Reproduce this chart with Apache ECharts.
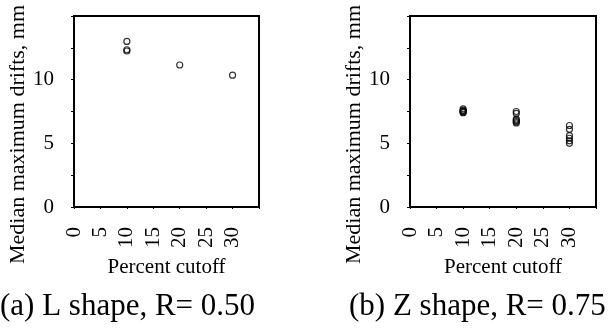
<!DOCTYPE html>
<html>
<head>
<meta charset="utf-8">
<script src="https://cdn.jsdelivr.net/npm/echarts@6/dist/echarts.min.js"></script>
<style>
  html, body { margin: 0; padding: 0; background: #fff; }
  #chart { width: 613px; height: 328px; }
</style>
</head>
<body>
<div id="chart"></div>
<script>
// Percent cutoff (x) and median maximum drift in mm (y) for each panel
const cutoffL = [10, 10, 10, 20, 30];
const driftL = [13.0, 12.35, 12.25, 11.15, 10.35];

const cutoffZ = [10, 10, 10, 10, 10, 10, 20, 20, 20, 20, 20, 20, 30, 30, 30, 30, 30, 30];
const driftZ = [7.7, 7.6, 7.55, 7.5, 7.45, 7.4, 7.5, 7.35, 6.9, 6.8, 6.7, 6.6, 6.4, 6.1, 5.6, 5.4, 5.2, 5.0];

const xTickLabels = [0, 5, 10, 15, 20, 25, 30];
const yTickLabels = [0, 5, 10];

const panelTitles = ['(a) L shape, R= 0.50', '(b) Z shape, R= 0.75'];
const xName = 'Percent cutoff';
const yName = 'Median maximum drifts, mm';

const FONT = '"Liberation Serif", "Times New Roman", serif';

function xAxis(gridIndex) {
  return {
    gridIndex, type: 'value', min: 0, max: 35, interval: 5,
    name: xName, nameLocation: 'middle', nameGap: 50,
    nameTextStyle: { fontFamily: FONT, fontSize: 21, color: '#000' },
    axisLine: { show: true, onZero: false, lineStyle: { color: '#000', width: 2 } },
    axisTick: { show: true, length: 2, lineStyle: { color: '#000', width: 1 } },
    splitLine: { show: false },
    axisLabel: {
      rotate: 90, margin: 20, fontFamily: FONT, fontSize: 21, color: '#000',
      padding: [6, 0, 0, 0],
      formatter: v => (xTickLabels.includes(v) ? String(v) : '')
    }
  };
}

function yAxis(gridIndex) {
  return {
    gridIndex, type: 'value', min: 0, max: 15, interval: 2.5,
    name: yName, nameLocation: 'middle', nameGap: 43,
    nameTextStyle: { fontFamily: FONT, fontSize: 22, color: '#000', padding: [0, 46, 0, 0] },
    axisLine: { show: true, onZero: false, lineStyle: { color: '#000', width: 2 } },
    axisTick: { show: true, length: 3, lineStyle: { color: '#000', width: 1 } },
    splitLine: { show: false },
    axisLabel: {
      margin: 20, fontFamily: FONT, fontSize: 21, color: '#000',
      formatter: v => (yTickLabels.includes(v) ? String(v) : '')
    }
  };
}

function scatter(i, xs, ys) {
  return {
    type: 'scatter', xAxisIndex: i, yAxisIndex: i,
    data: xs.map((x, k) => [x, ys[k]]),
    symbol: 'circle', symbolSize: 6,
    itemStyle: { color: 'rgba(255,255,255,0)', borderColor: '#000', borderWidth: 1.2 },
    silent: true
  };
}

function caption(text, left) {
  return {
    text, left, top: 291, padding: 0,
    textStyle: { fontFamily: FONT, fontSize: 31, fontWeight: 'normal', color: '#000' }
  };
}

const chart = echarts.init(document.getElementById('chart'), null, { renderer: 'canvas' });
chart.setOption({
  animation: false,
  backgroundColor: '#fff',
  title: [caption(panelTitles[0], 0), caption(panelTitles[1], 349)],
  grid: [
    { left: 74, top: 16, width: 185, height: 191, show: true, borderColor: '#000', borderWidth: 2,
      outerBoundsMode: 'none', containLabel: false },
    { left: 410, top: 16, width: 186, height: 191, show: true, borderColor: '#000', borderWidth: 2,
      outerBoundsMode: 'none', containLabel: false }
  ],
  xAxis: [xAxis(0), xAxis(1)],
  yAxis: [yAxis(0), yAxis(1)],
  series: [scatter(0, cutoffL, driftL), scatter(1, cutoffZ, driftZ)]
});
</script>
</body>
</html>
